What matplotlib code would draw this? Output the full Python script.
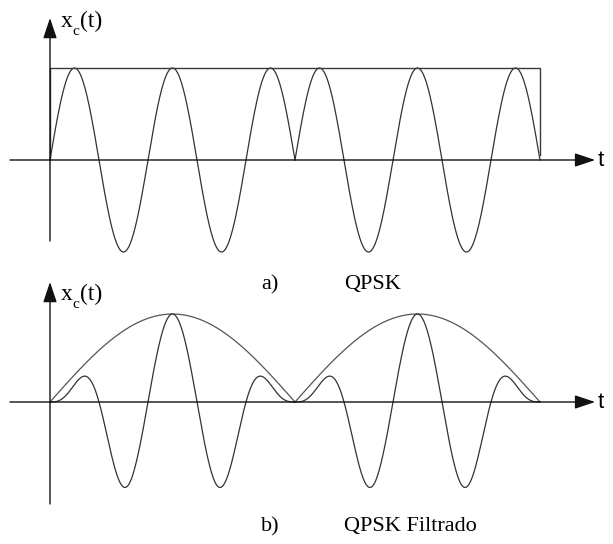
import matplotlib
matplotlib.use("Agg")
import matplotlib.pyplot as plt
import numpy as np

# 两个符号的载波参数
symbol_starts = [0.0, 1.0]          # 符号起始时刻 (以符号周期 T 为单位)
symbol_phase_deg = [0, 180]         # 每个符号的载波相位
cycles_per_symbol = 2.5             # 每个符号内的载波周期数
qpsk_amplitude = 1.0                # 矩形包络幅度
filtered_amplitude = 1.0            # 滤波后包络峰值
ramp_width = 0.34                   # 滤波后载波的上升沿宽度 (符号周期比例)

W, H = 613, 544
fig = plt.figure(figsize=(W / 100, H / 100), dpi=100)

line_c = '#333333'
axis_c = '#111111'
px_per_T = 245.0
x0_px = 50.0


def make_axes(top_px, bot_px, axis_px, amp_px):
    ax = fig.add_axes([0, 1 - bot_px / H, 1, (bot_px - top_px) / H])
    ax.set_xlim(-x0_px / px_per_T, (W - x0_px) / px_per_T)
    ax.set_ylim(-(bot_px - axis_px) / amp_px, (axis_px - top_px) / amp_px)
    ax.axis('off')
    return ax


def draw_axes(ax, t_end, y_top, y_bot):
    arrow = dict(arrowstyle='-|>,head_length=1.25,head_width=0.42',
                 color=axis_c, lw=1.0, mutation_scale=10, shrinkA=0, shrinkB=0)
    ax.annotate('', xy=(t_end, 0), xytext=(-40 / px_per_T, 0), arrowprops=arrow)
    ax.annotate('', xy=(0, y_top), xytext=(0, y_bot), arrowprops=arrow)


def carrier(t, k):
    # 载波: 每个符号带各自的相位
    phase = np.deg2rad(symbol_phase_deg[k])
    return np.sin(2 * np.pi * cycles_per_symbol * t + phase)


# ---- a) QPSK ----
ax1 = make_axes(0, 270, 160, 92)
draw_axes(ax1, 2.225, (160 - 18) / 92, -(241 - 160) / 92)
for k, t0 in enumerate(symbol_starts):
    t = np.linspace(t0, t0 + 1, 600)
    ax1.plot(t, qpsk_amplitude * carrier(t, k), color=line_c, lw=0.9)
# 矩形包络
t_last = symbol_starts[-1] + 1
ax1.plot([0, 0, t_last, t_last], [0, qpsk_amplitude, qpsk_amplitude, 0.05],
         color='#3a3a3a', lw=1.0)

# ---- b) QPSK Filtrado ----
ax2 = make_axes(270, 544, 402, 88)
draw_axes(ax2, 2.225, (402 - 282) / 88, -(504 - 402) / 88)
for k, t0 in enumerate(symbol_starts):
    t = np.linspace(t0, t0 + 1, 600)
    u = t - t0
    env = filtered_amplitude * np.sin(np.pi * u)
    w = np.minimum(u, 1 - u)
    shape = np.sin(np.pi / 2 * np.minimum(w / ramp_width, 1.0)) ** 2
    ax2.plot(t, env, color='#555555', lw=0.9)
    ax2.plot(t, filtered_amplitude * shape * carrier(t, k), color=line_c, lw=0.9)

# ---- 文字 ----
serif = 'Liberation Serif'
for y_px in (27, 300):
    yb = 1 - y_px / H
    fig.text(61 / W, yb, 'x', family=serif, fontsize=17, va='baseline')
    fig.text(72 / W, yb - 8 / H, 'c', family=serif, fontsize=11, va='baseline')
    fig.text(80 / W, yb, '(t)', family=serif, fontsize=17, va='baseline')
for y_px in (160, 402):
    fig.text(598 / W, 1 - y_px / H, 't', family='Liberation Sans',
             fontsize=16, va='center', ha='left')
fig.text(261 / W, 1 - 289 / H, 'a)', family=serif, fontsize=16, va='baseline')
fig.text(344 / W, 1 - 289 / H, 'QPSK', family=serif, fontsize=16, va='baseline')
fig.text(261 / W, 1 - 531 / H, 'b)', family=serif, fontsize=16, va='baseline')
fig.text(344 / W, 1 - 531 / H, 'QPSK Filtrado', family=serif, fontsize=16,
         va='baseline')

fig.savefig('out.png', dpi=100, facecolor='white')
